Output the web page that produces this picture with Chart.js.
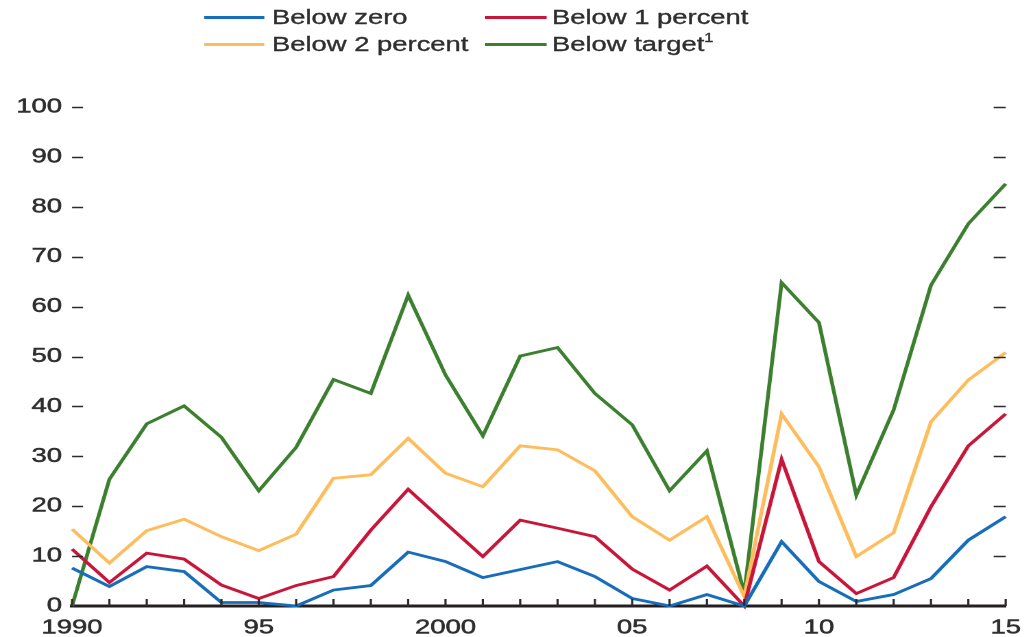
<!DOCTYPE html>
<html>
<head>
<meta charset="utf-8">
<script src="https://cdn.jsdelivr.net/npm/chart.js@4.4.1/dist/chart.umd.min.js"></script>
<style>
    html, body { margin: 0; padding: 0; background: #fff; overflow: hidden; }
    #stage { position: absolute; left: 0; top: 0; height: 637px; transform-origin: 0 0; }
    #chartBox { position: absolute; left: 0; top: 0; width: 100%; height: 637px; }
    #legend { position: absolute; left: 0; top: 0; font-family: "Liberation Sans", Arial, sans-serif; font-size: 20px; color: #2e2e2e; -webkit-text-stroke: 0.35px #2e2e2e; }
    .item { position: absolute; display: flex; align-items: center; white-space: nowrap; height: 24px; }
    .swatch { height: 3px; }
    .item sup { font-size: 12px; line-height: 0; position: relative; top: -1px; }
</style>
</head>
<body>
<div id="stage">
    <div id="legend"></div>
    <div id="chartBox"><canvas id="inflationGraph"></canvas></div>
</div>
<script>
const years = [1990, 1991, 1992, 1993, 1994, 1995, 1996, 1997, 1998, 1999, 2000, 2001, 2002,
    2003, 2004, 2005, 2006, 2007, 2008, 2009, 2010, 2011, 2012, 2013, 2014, 2015];
const xTickLabels = { 1990: "1990", 1995: "95", 2000: "2000", 2005: "05", 2010: "10", 2015: "15" };

const belowZero = [7.6, 3.9, 7.9, 6.9, 0.7, 0.7, 0, 3.2, 4.1, 10.8, 8.9, 5.7, 7.3,
    8.9, 5.9, 1.5, 0, 2.3, 0, 12.9, 4.9, 0.9, 2.3, 5.5, 13.2, 17.9];
const belowOne = [11.4, 4.7, 10.6, 9.4, 4.2, 1.5, 4.1, 5.9, 15.2, 23.4, 16.6, 9.9, 17.2,
    15.6, 13.9, 7.4, 3.2, 8.0, 0, 29.4, 8.9, 2.5, 5.7, 19.9, 32.1, 38.5];
const belowTwo = [15.4, 8.6, 15.1, 17.4, 13.9, 11.1, 14.4, 25.6, 26.3, 33.6, 26.6, 23.9, 32.1,
    31.3, 27.1, 17.9, 13.2, 17.9, 1.9, 38.5, 27.9, 9.9, 14.7, 36.9, 45.3, 50.8];
const belowTarget = [0, 25.4, 36.5, 40.1, 33.8, 23.1, 31.8, 45.4, 42.6, 62.3, 46.3, 34.1, 50.1,
    51.8, 42.6, 36.3, 23.1, 31.1, 2.5, 64.8, 56.8, 22.2, 39.3, 64.3, 76.6, 84.6];

const seriesNames = ["Below zero", "Below 1 percent", "Below 2 percent", "Below target"];
const seriesColors = ["#176db9", "#c8163a", "#fdbd5c", "#3b7f2f"];
const seriesData = [belowZero, belowOne, belowTwo, belowTarget];

const textColor = "#2e2e2e";
const fontFamily = "'Liberation Sans', Arial, sans-serif";

// the reference figure is stretched sideways, so draw narrow and widen with css
const STRETCH = 1.37;
const PAGE_W = 1034;
const innerW = PAGE_W / STRETCH;
const sx = (v) => v / STRETCH;   // page x -> unstretched x

const stage = document.getElementById("stage");
stage.style.width = innerW + "px";
stage.style.transform = "scaleX(" + STRETCH + ")";

// legend: 2 x 2 grid above the plot
function build_legend() {
    const legend = document.getElementById("legend");
    const cols = [[204, 265, 272], [485, 546, 552]];
    const rows = [5, 32];
    seriesNames.forEach((name, i) => {
        const col = cols[i % 2];
        const item = document.createElement("div");
        item.className = "item";
        item.style.left = sx(col[0]) + "px";
        item.style.top = rows[Math.floor(i / 2)] + "px";
        const swatch = document.createElement("span");
        swatch.className = "swatch";
        swatch.style.width = sx(col[1] - col[0]) + "px";
        swatch.style.marginRight = sx(col[2] - col[1]) + "px";
        swatch.style.background = seriesColors[i];
        const label = document.createElement("span");
        label.textContent = name;
        if (name === "Below target") {
            const sup = document.createElement("sup");
            sup.textContent = "1";
            label.appendChild(sup);
        }
        item.appendChild(swatch);
        item.appendChild(label);
        legend.appendChild(item);
    });
}

// short tick marks inside the plot: both y sides and upward on the x axis
const innerTicks = {
    id: "innerTicks",
    afterDraw(chart) {
        const { ctx, chartArea, scales } = chart;
        ctx.save();
        ctx.strokeStyle = "#2b2b2b";
        ctx.lineWidth = 1.6;
        ctx.beginPath();
        scales.y.ticks.forEach((t) => {
            if (t.value === 0) return;
            const py = Math.round(scales.y.getPixelForValue(t.value)) + 0.5;
            ctx.moveTo(chartArea.left, py);
            ctx.lineTo(chartArea.left + sx(11), py);
            ctx.moveTo(chartArea.right - sx(12), py);
            ctx.lineTo(chartArea.right, py);
        });
        scales.x.ticks.forEach((t, i) => {
            const px = scales.x.getPixelForTick(i);
            ctx.moveTo(px, chartArea.bottom);
            ctx.lineTo(px, chartArea.bottom - 7);
        });
        ctx.stroke();
        ctx.restore();
    },
};

function create_inflation_graph() {
    const tickFont = { family: fontFamily, size: 20 };
    const config = {
        type: "line",
        data: {
            labels: years,
            datasets: seriesNames.map((name, i) => ({
                label: name,
                data: seriesData[i],
                borderColor: seriesColors[i],
                backgroundColor: seriesColors[i],
                borderWidth: 2.8,
                pointRadius: 0,
                tension: 0,
                clip: false,
            })),
        },
        options: {
            responsive: true,
            maintainAspectRatio: false,
            devicePixelRatio: 2,
            animation: false,
            layout: { padding: { top: 107, right: innerW - sx(1017), left: 0, bottom: 0 } },
            plugins: {
                legend: { display: false },
                tooltip: { enabled: false },
            },
            scales: {
                x: {
                    type: "category",
                    offset: false,
                    grid: { display: false, drawTicks: false },
                    border: { display: true, color: "#231f20", width: 3 },
                    ticks: {
                        autoSkip: false,
                        maxRotation: 0,
                        minRotation: 0,
                        padding: 10,
                        color: textColor,
                        textStrokeColor: textColor,
                        textStrokeWidth: 0.5,
                        font: tickFont,
                        callback: function (value, index) {
                            return xTickLabels[years[index]] || "";
                        },
                    },
                    afterFit: (scale) => { scale.height = 31; },
                },
                y: {
                    min: 0,
                    max: 100,
                    grid: { display: false, drawTicks: false },
                    border: { display: false },
                    ticks: {
                        stepSize: 10,
                        padding: sx(10),
                        color: textColor,
                        textStrokeColor: textColor,
                        textStrokeWidth: 0.5,
                        font: tickFont,
                    },
                    afterFit: (scale) => { scale.width = sx(72); },
                },
            },
        },
        plugins: [innerTicks],
    };
    return new Chart("inflationGraph", config);
}

build_legend();
create_inflation_graph();
</script>
</body>
</html>
